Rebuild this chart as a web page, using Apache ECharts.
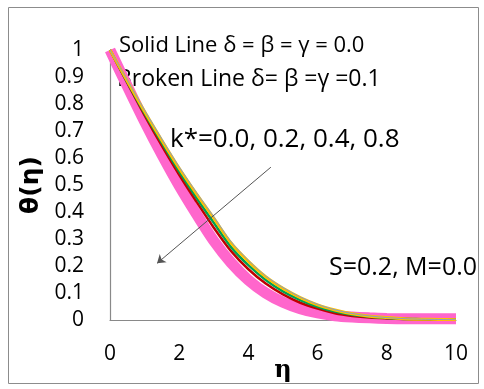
<!DOCTYPE html>
<html>
<head>
<meta charset="utf-8" />
<title>theta profile</title>
<script src="https://cdn.jsdelivr.net/npm/echarts@6/dist/echarts.min.js"></script>
<style>
  html, body { margin: 0; padding: 0; background: #fff; }
  #chart { width: 484px; height: 389px; }
</style>
</head>
<body>
<div id="chart"></div>
<script>
// eta values (x axis)
var eta = [0, 0.5, 1, 1.5, 2, 2.5, 3, 3.5, 4, 4.5, 5, 5.5, 6, 6.5, 7, 7.5, 8, 8.5, 9, 9.5, 10];
// theta(eta) for the curves
var thetaBlue   = [1, 0.889, 0.777, 0.670, 0.567, 0.472, 0.382, 0.290, 0.221, 0.163, 0.120, 0.085, 0.058, 0.038, 0.024, 0.015, 0.009, 0.005, 0.003, 0.002, 0.001];
var thetaYellow = [1, 0.885, 0.772, 0.665, 0.562, 0.467, 0.377, 0.285, 0.217, 0.160, 0.117, 0.083, 0.056, 0.037, 0.023, 0.014, 0.009, 0.005, 0.003, 0.002, 0.001];
var thetaGreen  = [1, 0.881, 0.765, 0.656, 0.550, 0.453, 0.360, 0.270, 0.203, 0.148, 0.106, 0.074, 0.049, 0.031, 0.019, 0.012, 0.007, 0.004, 0.003, 0.002, 0.001];
var thetaRed    = [1, 0.878, 0.758, 0.645, 0.538, 0.438, 0.342, 0.255, 0.188, 0.135, 0.095, 0.064, 0.042, 0.025, 0.015, 0.009, 0.006, 0.004, 0.002, 0.001, 0.001];
var thetaPink   = [1, 0.866, 0.735, 0.612, 0.497, 0.392, 0.293, 0.212, 0.148, 0.100, 0.066, 0.042, 0.026, 0.016, 0.011, 0.008, 0.006, 0.005, 0.005, 0.005, 0.005];
var xTicks = [0, 2, 4, 6, 8, 10];
var yTicks = [0, 0.1, 0.2, 0.3, 0.4, 0.5, 0.6, 0.7, 0.8, 0.9, 1];

function pairs(ys) {
  var out = [];
  for (var i = 0; i < eta.length; i++) out.push([eta[i], ys[i]]);
  return out;
}
function curve(name, ys, color, width) {
  return {
    name: name, type: 'line', data: pairs(ys), smooth: 0.3,
    showSymbol: false, silent: true, animation: false,
    lineStyle: { color: color, width: width }
  };
}

var font = '"Open Sans", "Liberation Sans", sans-serif';
var chart = echarts.init(document.getElementById('chart'));

var series = [
  curve('pink', thetaPink, '#ff66cc', 11),
  curve('red', thetaRed, '#c00000', 2.5),
  curve('green', thetaGreen, '#00a050', 2.5),
  curve('yellow', thetaYellow, '#ffc000', 3),
  curve('blue', thetaBlue, '#7f9ccf', 1)
];
// arrow across the curves (k* increasing)
series[4].markLine = {
  silent: true, animation: false,
  symbol: ['none', 'arrow'], symbolSize: 8,
  label: { show: false },
  lineStyle: { color: '#555', width: 1, type: 'solid' },
  data: [[{ coord: [4.65, 0.566] }, { coord: [1.36, 0.21] }]]
};

chart.setOption({
  backgroundColor: '#fff',
  animation: false,
  grid: { left: 110, right: 28, top: 50, bottom: 69, outerBoundsMode: 'none', containLabel: false },
  xAxis: {
    type: 'value', min: 0, max: 10, interval: 2,
    name: 'η', nameLocation: 'middle', nameGap: 51, nameMoveOverlap: false,
    nameTextStyle: { fontFamily: 'DejaVu Serif', fontWeight: 'bold', fontSize: 24, color: '#000',
      verticalAlign: 'middle' },
    axisLine: { lineStyle: { color: '#898989', width: 1.2 } },
    axisTick: { show: false },
    splitLine: { show: false },
    axisLabel: { margin: 24, fontFamily: font, fontSize: 21, color: '#000',
      formatter: function (v) { return xTicks.indexOf(v) >= 0 ? String(v) : ''; } }
  },
  yAxis: {
    type: 'value', min: 0, max: 1, interval: 0.1,
    name: 'θ(η)', nameLocation: 'middle', nameGap: 66, nameRotate: 90, nameMoveOverlap: false,
    nameTextStyle: { fontFamily: 'DejaVu Sans', fontWeight: 'bold', fontSize: 25, color: '#000' },
    axisLine: { show: true, lineStyle: { color: '#898989', width: 1.2 } },
    axisTick: { show: false },
    splitLine: { show: false },
    axisLabel: { margin: 26, fontFamily: font, fontSize: 21, color: '#000',
      formatter: function (v) {
        var r = Math.round(v * 10) / 10;
        return yTicks.indexOf(r) >= 0 ? String(r) : '';
      } }
  },
  graphic: [
    { type: 'rect', silent: true, z: -1, shape: { x: 8.5, y: 7.5, width: 470, height: 376 },
      style: { fill: 'none', stroke: '#8c8c8c', lineWidth: 1 } },
    { type: 'text', left: 119, top: 35, silent: true,
      style: { text: 'Solid Line δ = β = γ = 0.0', font: '22px ' + font, fill: '#000' } },
    { type: 'text', left: 117, top: 68, silent: true,
      style: { text: 'Broken Line δ= β =γ =0.1', font: '23px ' + font, fill: '#000' } },
    { type: 'text', left: 170, top: 127, silent: true,
      style: { text: 'k*=0.0, 0.2, 0.4, 0.8', font: '26px ' + font, fill: '#000' } },
    { type: 'text', left: 329, top: 255, silent: true,
      style: { text: 'S=0.2, M=0.0', font: '25px ' + font, fill: '#000' } }
  ],
  series: series
});
</script>
</body>
</html>
